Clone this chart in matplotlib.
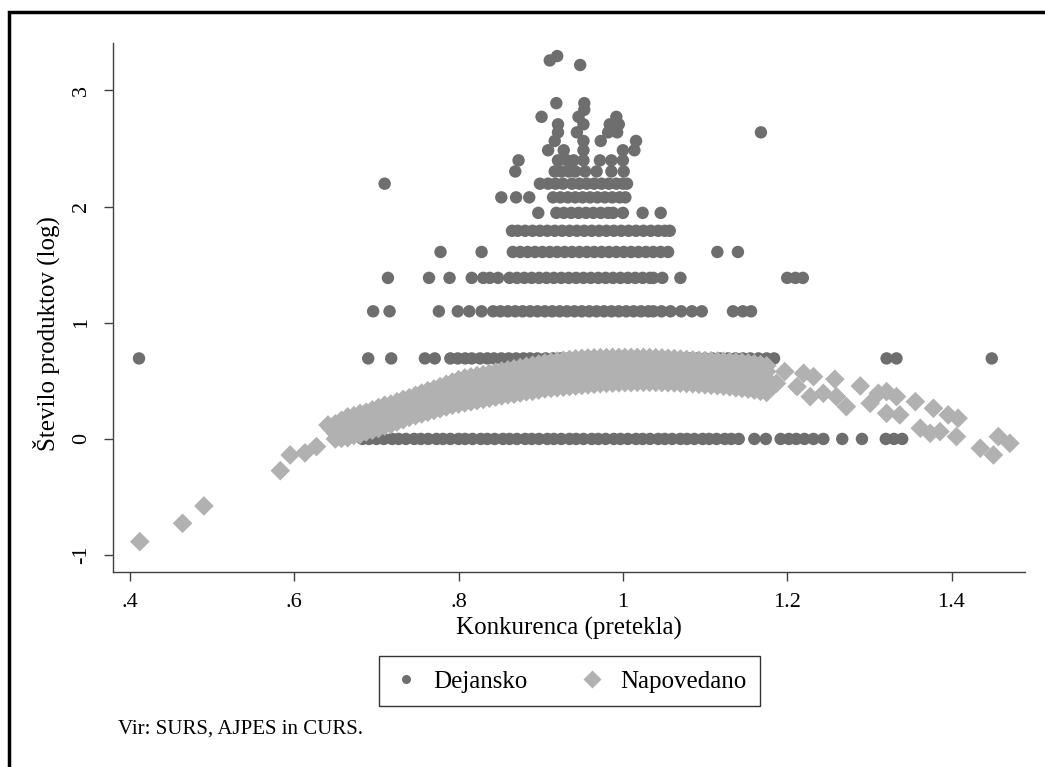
import matplotlib
matplotlib.use("Agg")
import matplotlib.pyplot as plt
from matplotlib.lines import Line2D
import numpy as np

plt.rcParams['font.family'] = ['Liberation Serif', 'DejaVu Serif']

# Dejansko: number of products (count) and konkurenca values read per row
x_1 = [0.683, 0.691, 0.700, 0.709, 0.719, 0.727, 0.736, 0.746, 0.754, 0.763, 0.773, 0.781,
       0.790, 0.800, 0.808, 0.817, 0.827, 0.835, 0.844, 0.854, 0.862, 0.871, 0.881, 0.889,
       0.898, 0.908, 0.916, 0.925, 0.935, 0.943, 0.952, 0.962, 0.970, 0.979, 0.989, 0.997,
       1.006, 1.016, 1.024, 1.033, 1.043, 1.051, 1.060, 1.070, 1.078, 1.087, 1.097, 1.105,
       1.114, 1.124, 1.132, 1.141, 1.160, 1.174, 1.192, 1.202, 1.211, 1.221, 1.232, 1.244,
       1.267, 1.291, 1.320, 1.330, 1.340]
x_2 = [0.411, 0.690, 0.718, 0.759, 0.771, 0.790, 0.799, 0.808, 0.816, 0.826, 0.835, 0.843,
       0.852, 0.861, 0.870, 0.879, 0.887, 0.896, 0.906, 0.915, 0.924, 0.933, 0.943, 0.952,
       0.961, 0.970, 0.980, 0.989, 0.998, 1.007, 1.017, 1.026, 1.035, 1.044, 1.054, 1.063,
       1.072, 1.081, 1.091, 1.100, 1.109, 1.118, 1.128, 1.137, 1.146, 1.155, 1.165, 1.175,
       1.184, 1.321, 1.333, 1.449]
x_3 = [0.696, 0.716, 0.776, 0.799, 0.813, 0.828, 0.842, 0.851, 0.860, 0.869, 0.878, 0.887,
       0.896, 0.905, 0.914, 0.923, 0.932, 0.941, 0.950, 0.959, 0.968, 0.977, 0.986, 0.995,
       1.004, 1.013, 1.022, 1.031, 1.037, 1.047, 1.058, 1.071, 1.084, 1.096, 1.134, 1.146,
       1.156]
x_4 = [0.714, 0.764, 0.789, 0.816, 0.830, 0.838, 0.848, 0.862, 0.871, 0.880, 0.889, 0.898,
       0.907, 0.916, 0.925, 0.934, 0.943, 0.952, 0.961, 0.970, 0.979, 0.988, 0.997, 1.006,
       1.015, 1.024, 1.033, 1.037, 1.048, 1.070, 1.200, 1.210, 1.219]
x_5 = [0.778, 0.828, 0.866, 0.875, 0.884, 0.893, 0.902, 0.911, 0.920, 0.929, 0.938, 0.947,
       0.956, 0.965, 0.974, 0.983, 0.992, 1.001, 1.010, 1.019, 1.028, 1.037, 1.046, 1.055,
       1.115, 1.140]
x_6 = [0.865, 0.872, 0.881, 0.890, 0.899, 0.908, 0.917, 0.926, 0.935, 0.944, 0.953, 0.962,
       0.971, 0.980, 0.989, 0.998, 1.007, 1.016, 1.025, 1.034, 1.043, 1.051, 1.057]
x_7 = [0.897, 0.919, 0.928, 0.937, 0.946, 0.955, 0.964, 0.973, 0.982, 0.988, 1.000, 1.024,
       1.046]
x_8 = [0.852, 0.870, 0.886, 0.915, 0.924, 0.933, 0.942, 0.951, 0.960, 0.969, 0.978, 0.987,
       0.996, 1.003]
x_9 = [0.710, 0.899, 0.909, 0.918, 0.927, 0.938, 0.947, 0.956, 0.965, 0.974, 0.983, 0.992,
       1.000, 1.005]
x_10 = [0.869, 0.917, 0.925, 0.934, 0.942, 0.954, 0.968, 0.986, 1.001]
x_11 = [0.873, 0.921, 0.932, 0.940, 0.952, 0.972, 0.986, 1.000]
x_12 = [0.909, 0.928, 0.952, 1.000, 1.014]
x_13 = [0.917, 0.952, 0.973, 1.016]
x_14 = [0.921, 0.944, 0.982, 0.993, 1.168]
x_15 = [0.921, 0.952, 0.984, 0.995]
x_16 = [0.901, 0.946, 0.992]
x_17 = [0.953]
x_18 = [0.919, 0.953]
x_25 = [0.948]
x_26 = [0.911]
x_27 = [0.920]

counts = [1, 2, 3, 4, 5, 6, 7, 8, 9, 10, 11, 12, 13, 14, 15, 16, 17, 18, 25, 26, 27]
rows = [x_1, x_2, x_3, x_4, x_5, x_6, x_7, x_8, x_9, x_10, x_11, x_12, x_13, x_14,
        x_15, x_16, x_17, x_18, x_25, x_26, x_27]

# Napovedano: lowest and highest predictions along the dense band
edge_x = [0.650, 0.6575, 0.665, 0.6725, 0.680, 0.6875, 0.695, 0.7025, 0.710, 0.7175,
          0.725, 0.7325, 0.740, 0.7475, 0.755, 0.7625, 0.770, 0.7775, 0.785, 0.7925,
          0.800, 0.8075, 0.815, 0.8225, 0.830, 0.8375, 0.845, 0.8525, 0.860, 0.8675,
          0.875, 0.8825, 0.890, 0.8975, 0.905, 0.9125, 0.920, 0.9275, 0.935, 0.9425,
          0.950, 0.9575, 0.965, 0.9725, 0.980, 0.9875, 0.995, 1.0025, 1.010, 1.0175,
          1.025, 1.0325, 1.040, 1.0475, 1.055, 1.0625, 1.070, 1.0775, 1.085, 1.0925,
          1.100, 1.1075, 1.115, 1.1225, 1.130, 1.1375, 1.145, 1.1525, 1.160, 1.1675,
          1.175]
edge_lo = [0.000, 0.005, 0.010, 0.030, 0.040, 0.060, 0.075, 0.090, 0.110, 0.125,
           0.145, 0.165, 0.185, 0.200, 0.215, 0.230, 0.245, 0.260, 0.275, 0.290,
           0.300, 0.310, 0.320, 0.330, 0.340, 0.350, 0.360, 0.370, 0.380, 0.385,
           0.395, 0.405, 0.410, 0.420, 0.430, 0.435, 0.440, 0.445, 0.450, 0.455,
           0.460, 0.465, 0.470, 0.475, 0.478, 0.480, 0.483, 0.485, 0.485, 0.487,
           0.487, 0.487, 0.486, 0.485, 0.484, 0.482, 0.480, 0.477, 0.474, 0.470,
           0.466, 0.462, 0.458, 0.453, 0.448, 0.440, 0.435, 0.428, 0.420, 0.410,
           0.400]
edge_hi = [0.130, 0.160, 0.190, 0.200, 0.220, 0.230, 0.250, 0.270, 0.290, 0.300,
           0.320, 0.340, 0.355, 0.375, 0.395, 0.415, 0.430, 0.450, 0.470, 0.490,
           0.510, 0.525, 0.535, 0.545, 0.555, 0.565, 0.575, 0.585, 0.595, 0.605,
           0.615, 0.625, 0.635, 0.645, 0.655, 0.662, 0.670, 0.677, 0.684, 0.690,
           0.694, 0.697, 0.699, 0.700, 0.701, 0.702, 0.702, 0.702, 0.702, 0.702,
           0.702, 0.701, 0.700, 0.698, 0.695, 0.692, 0.688, 0.684, 0.680, 0.677,
           0.675, 0.673, 0.671, 0.669, 0.667, 0.664, 0.660, 0.655, 0.648, 0.640,
           0.630]

# Napovedano: predictions inside the band
band_x = [0.650, 0.665, 0.680, 0.695, 0.710, 0.725, 0.740, 0.755, 0.770, 0.785, 0.800,
          0.815, 0.830, 0.845, 0.860, 0.875, 0.890, 0.905, 0.920, 0.935, 0.950, 0.965,
          0.980, 0.995, 1.010, 1.025, 1.040, 1.055, 1.070, 1.085, 1.100, 1.115, 1.130,
          1.145, 1.160, 1.175]
band_q1 = [0.050, 0.060, 0.090, 0.125, 0.160, 0.195, 0.235, 0.265, 0.295, 0.325, 0.350,
           0.370, 0.390, 0.410, 0.430, 0.445, 0.460, 0.480, 0.490, 0.500, 0.510, 0.520,
           0.528, 0.533, 0.535, 0.537, 0.536, 0.534, 0.530, 0.524, 0.516, 0.508, 0.498,
           0.485, 0.470, 0.450]
band_mid = [0.065, 0.100, 0.130, 0.160, 0.200, 0.230, 0.270, 0.305, 0.340, 0.370, 0.405,
            0.430, 0.450, 0.470, 0.490, 0.505, 0.520, 0.540, 0.550, 0.560, 0.570, 0.580,
            0.588, 0.592, 0.593, 0.594, 0.594, 0.590, 0.585, 0.578, 0.570, 0.563, 0.556,
            0.547, 0.535, 0.515]
band_q3 = [0.080, 0.140, 0.170, 0.200, 0.240, 0.270, 0.305, 0.345, 0.380, 0.420, 0.460,
           0.485, 0.505, 0.525, 0.545, 0.560, 0.580, 0.595, 0.610, 0.625, 0.635, 0.643,
           0.648, 0.650, 0.651, 0.651, 0.650, 0.645, 0.638, 0.630, 0.622, 0.616, 0.612,
           0.606, 0.596, 0.580]

# Napovedano: sparse points at both ends
tail_x = [0.412, 0.464, 0.490, 0.583, 0.595, 0.613, 0.627, 0.641, 0.645, 0.655,
          1.175, 1.187, 1.197, 1.212, 1.220, 1.228, 1.232, 1.244, 1.258, 1.260, 1.272,
          1.289, 1.301, 1.311, 1.321, 1.321, 1.333, 1.337, 1.356, 1.362, 1.374, 1.378,
          1.386, 1.396, 1.406, 1.408, 1.435, 1.451, 1.457, 1.471]
tail_y = [-0.884, -0.726, -0.577, -0.273, -0.138, -0.120, -0.066, 0.120, 0.090, 0.040,
          0.436, 0.479, 0.580, 0.450, 0.565, 0.364, 0.536, 0.393, 0.514, 0.364, 0.278,
          0.456, 0.307, 0.393, 0.407, 0.221, 0.364, 0.207, 0.321, 0.092, 0.049, 0.264,
          0.063, 0.207, 0.020, 0.178, -0.080, -0.138, 0.020, -0.037]

dark = '#6e6e6e'
light = '#b1b1b1'

fig = plt.figure(figsize=(10.45, 7.67), dpi=100)
ax = fig.add_axes([0.1081, 0.2543, 0.8728, 0.6896])

for n, xs in zip(counts, rows):
    ax.scatter(xs, np.full(len(xs), np.log(n)), s=80, c=dark, marker='o',
               edgecolors='none', zorder=2)

dkw = dict(s=100, c=light, marker='D', edgecolors='none', zorder=3)
ax.scatter(edge_x, edge_lo, **dkw)
ax.scatter(edge_x, edge_hi, **dkw)
for col in (band_q1, band_mid, band_q3):
    ax.scatter(band_x, col, **dkw)
ax.scatter(tail_x, tail_y, **dkw)

ax.set_xlim(0.3793, 1.4895)
ax.set_ylim(-1.145, 3.408)
ax.set_xticks([0.4, 0.6, 0.8, 1.0, 1.2, 1.4])
ax.set_xticklabels(['.4', '.6', '.8', '1', '1.2', '1.4'])
ax.set_yticks([-1, 0, 1, 2, 3])
ax.set_yticklabels(['-1', '0', '1', '2', '3'], rotation=90, va='center')
for s in ('top', 'right'):
    ax.spines[s].set_visible(False)
for s in ('left', 'bottom'):
    ax.spines[s].set_color('#404040')
    ax.spines[s].set_linewidth(1.0)
ax.tick_params(direction='out', length=6.5, width=1, color='#404040', labelsize=16)
ax.tick_params(axis='x', pad=9)
ax.tick_params(axis='y', pad=9)
ax.set_xlabel('Konkurenca (pretekla)', fontsize=18, labelpad=3)
ax.set_ylabel('Število produktov (log)', fontsize=18)
ax.yaxis.set_label_coords(-0.058, 0.45)

handles = [Line2D([], [], ls='none', marker='o', ms=6.5, color=dark, mec='none'),
           Line2D([], [], ls='none', marker='D', ms=9, color=light, mec='none')]
leg = fig.legend(handles, ['Dejansko', 'Napovedano'], loc='center',
                 bbox_to_anchor=(0.545, 0.1115), ncol=2, fontsize=18, frameon=True,
                 fancybox=False, edgecolor='black', columnspacing=2.1,
                 handletextpad=0.6, borderpad=0.55, handlelength=1.0)
leg.get_frame().set_linewidth(1.0)

fig.text(0.113, 0.0495, 'Vir: SURS, AJPES in CURS.', fontsize=15, va='center')

# outer frame
fig.add_artist(plt.Rectangle((0.0085, -0.05), 1.2, 1.0345, transform=fig.transFigure,
                             fill=False, ec='black', lw=2.5))

fig.savefig('out.png', dpi=100)
